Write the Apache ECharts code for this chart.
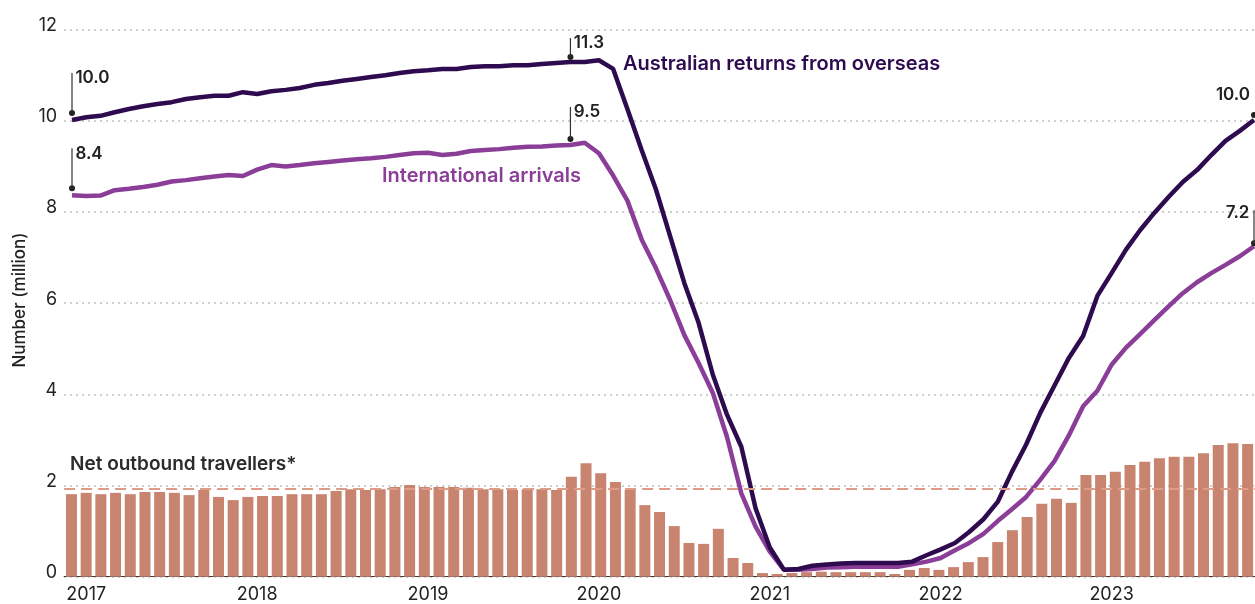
<!DOCTYPE html>
<html>
<head>
<meta charset="utf-8">
<title>Travellers</title>
<script src="https://cdn.jsdelivr.net/npm/echarts@6.0.0/dist/echarts.min.js"></script>
<style>
  html, body { margin: 0; padding: 0; background: #fff; }
  #main { width: 1255px; height: 604px; }
</style>
</head>
<body>
<div id="main"></div>
<script>
// monthly points, rolling 12-month totals (million)
const monthNames = ["Jan", "Feb", "Mar", "Apr", "May", "Jun", "Jul", "Aug", "Sep", "Oct", "Nov", "Dec"];

// lines: Dec 2016 .. Nov 2023
const lineMonths = [];
for (let i = 0; i < 84; i++) {
  lineMonths.push(monthNames[(11 + i) % 12] + " " + (2016 + Math.floor((11 + i) / 12)));
}
// bars: Mar 2017 .. Nov 2023
const barMonths = [];
for (let i = 0; i < 81; i++) {
  barMonths.push(monthNames[(2 + i) % 12] + " " + (2017 + Math.floor((2 + i) / 12)));
}

const australianReturns = [
  10.02, 10.08, 10.11, 10.19, 10.26, 10.32, 10.37, 10.41, 10.48, 10.52,
  10.55, 10.55, 10.63, 10.59, 10.65, 10.68, 10.72, 10.79, 10.83, 10.88,
  10.92, 10.96, 11.0, 11.05, 11.09, 11.11, 11.14, 11.14, 11.18, 11.2,
  11.2, 11.22, 11.22, 11.25, 11.27, 11.29, 11.29, 11.33, 11.14, 10.26,
  9.36, 8.5, 7.47, 6.44, 5.57, 4.43, 3.55, 2.85, 1.5, 0.64,
  0.15, 0.17, 0.24, 0.27, 0.29, 0.3, 0.3, 0.3, 0.3, 0.33,
  0.47, 0.6, 0.74, 0.98, 1.26, 1.64, 2.3, 2.9, 3.6, 4.2,
  4.8, 5.28, 6.16, 6.66, 7.17, 7.6, 7.98, 8.33, 8.66, 8.92,
  9.25, 9.56, 9.78, 10.02
];

const internationalArrivals = [
  8.37, 8.35, 8.36, 8.48, 8.51, 8.55, 8.6, 8.67, 8.7, 8.74,
  8.78, 8.81, 8.79, 8.93, 9.03, 9.0, 9.03, 9.07, 9.1, 9.13,
  9.16, 9.18, 9.21, 9.25, 9.29, 9.3, 9.25, 9.28, 9.34, 9.36,
  9.38, 9.41, 9.43, 9.44, 9.46, 9.47, 9.52, 9.29, 8.8, 8.25,
  7.4, 6.77, 6.07, 5.3, 4.69, 4.03, 3.06, 1.83, 1.1, 0.55,
  0.15, 0.15, 0.17, 0.2, 0.21, 0.22, 0.22, 0.22, 0.22, 0.27,
  0.33, 0.41, 0.58, 0.74, 0.94, 1.22, 1.48, 1.75, 2.13, 2.54,
  3.1, 3.74, 4.08, 4.65, 5.02, 5.32, 5.63, 5.93, 6.22, 6.46,
  6.66, 6.84, 7.03, 7.25
];

const netOutbound = [
  1.81, 1.84, 1.81, 1.84, 1.81, 1.86, 1.86, 1.84, 1.79, 1.90,
  1.75, 1.68, 1.75, 1.77, 1.77, 1.81, 1.81, 1.81, 1.88, 1.92,
  1.90, 1.92, 1.97, 2.01, 1.97, 1.97, 1.97, 1.95, 1.92, 1.92,
  1.90, 1.92, 1.92, 1.90, 2.19, 2.49, 2.27, 2.08, 1.90, 1.57,
  1.42, 1.11, 0.74, 0.72, 1.05, 0.41, 0.30, 0.08, 0.06, 0.08,
  0.10, 0.11, 0.10, 0.10, 0.10, 0.10, 0.06, 0.15, 0.19, 0.15,
  0.21, 0.32, 0.43, 0.76, 1.02, 1.31, 1.60, 1.71, 1.62, 2.23,
  2.23, 2.30, 2.45, 2.52, 2.60, 2.63, 2.63, 2.71, 2.89, 2.93,
  2.91
];
const netOutboundAverage = 1.94;

const yTicks = [0, 2, 4, 6, 8, 10, 12];

const FONT = "Inter, 'Noto Sans', sans-serif";
const DARK = "#2e0b4f";
const PURPLE = "#8b3e98";
const BAR = "#c8846f";

// annotation: dot a little above the point, a thin stem, and the value text
function note(k, v, text, dy, h, pos, align) {
  const lbl = {
    show: true, formatter: text, position: pos, align: align, verticalAlign: "middle",
    color: "#222", fontSize: 17, fontWeight: 600, fontFamily: FONT
  };
  const items = [{
    coord: [k, v],
    symbol: "circle",
    symbolSize: 6,
    symbolOffset: [0, -dy],
    itemStyle: { color: "#222" },
    label: h ? { show: false } : lbl
  }];
  if (h) {
    items.push({
      coord: [k, v],
      symbol: "rect",
      symbolSize: [1.2, h],
      symbolOffset: [0, -(dy + h / 2)],
      itemStyle: { color: "#333" },
      label: lbl
    });
  }
  return items;
}

const chart = echarts.init(document.getElementById("main"));
chart.setOption({
  animation: false,
  textStyle: { fontFamily: FONT },
  grid: [
    { left: 64.1, right: -6.3, top: 29.7, bottom: 27.3 },
    { left: 72, right: 1, top: 29.7, bottom: 27.3 }
  ],
  xAxis: [
    {
      type: "category",
      gridIndex: 0,
      data: barMonths,
      boundaryGap: true,
      axisLine: { show: true, lineStyle: { color: "#3a3a3a", width: 1 } },
      axisTick: { show: false },
      axisLabel: { show: false }
    },
    {
      type: "category",
      gridIndex: 1,
      data: lineMonths,
      boundaryGap: false,
      axisLine: { show: false },
      axisTick: { show: false },
      axisLabel: {
        interval: function (i) { return i % 12 === 1; },
        formatter: function (v) { return v.slice(-4); },
        color: "#222",
        fontSize: 18,
        fontFamily: FONT,
        margin: 9
      }
    }
  ],
  yAxis: [
    {
      type: "value",
      gridIndex: 0,
      min: yTicks[0],
      max: yTicks[yTicks.length - 1],
      interval: 2,
      axisLine: { show: false },
      axisTick: { show: false },
      axisLabel: {
        color: "#222",
        fontSize: 18,
        fontFamily: FONT,
        margin: 7,
        verticalAlign: "bottom",
        lineHeight: 8
      },
      splitLine: { lineStyle: { color: "#bdbdbd", type: [2, 4], width: 1.5 } }
    },
    {
      type: "value",
      gridIndex: 1,
      min: yTicks[0],
      max: yTicks[yTicks.length - 1],
      interval: 2,
      show: false,
      splitLine: { show: false }
    }
  ],
  graphic: [
    {
      type: "text", x: 20, y: 300, rotation: Math.PI / 2,
      style: {
        text: "Number (million)", fill: "#222", font: "500 17px " + FONT,
        align: "center", verticalAlign: "middle"
      }
    },
    {
      type: "text", left: 623, top: 54,
      style: { text: "Australian returns from overseas", fill: DARK, font: "600 20px " + FONT }
    },
    {
      type: "text", left: 382, top: 166,
      style: { text: "International arrivals", fill: PURPLE, font: "600 20px " + FONT }
    },
    {
      type: "text", left: 70, top: 455,
      style: { text: "Net outbound travellers*", fill: "#2b2b2b", font: "600 19px " + FONT }
    }
  ],
  series: [
    {
      name: "Net outbound travellers",
      type: "bar",
      xAxisIndex: 0,
      yAxisIndex: 0,
      data: netOutbound,
      barWidth: 11,
      itemStyle: { color: BAR },
      z: 1,
      markLine: {
        silent: true,
        symbol: "none",
        label: { show: false },
        lineStyle: { color: "#dc9c87", type: [11, 6], width: 2 },
        data: [{ yAxis: netOutboundAverage }]
      }
    },
    {
      name: "International arrivals",
      type: "line",
      xAxisIndex: 1,
      yAxisIndex: 1,
      data: internationalArrivals,
      showSymbol: false,
      lineStyle: { color: PURPLE, width: 4.5 },
      itemStyle: { color: PURPLE },
      z: 3,
      markPoint: {
        data: [].concat(
          note(0, internationalArrivals[0], "8.4", 7, 40, [4, 6], "left"),
          note(35, internationalArrivals[35], "9.5", 6, 32, [4, 5], "left"),
          note(83, internationalArrivals[83], "7.2", 3, 33, [-4, 3], "right")
        )
      }
    },
    {
      name: "Australian returns from overseas",
      type: "line",
      xAxisIndex: 1,
      yAxisIndex: 1,
      data: australianReturns,
      showSymbol: false,
      lineStyle: { color: DARK, width: 4.5 },
      itemStyle: { color: DARK },
      z: 4,
      markPoint: {
        data: [].concat(
          note(0, australianReturns[0], "10.0", 7, 40, [4, 5], "left"),
          note(35, australianReturns[35], "11.3", 5, 19, [4, 5], "left"),
          note(83, australianReturns[83], "10.0", 5, 0, [-1, -17], "right")
        )
      }
    }
  ]
});
</script>
</body>
</html>
